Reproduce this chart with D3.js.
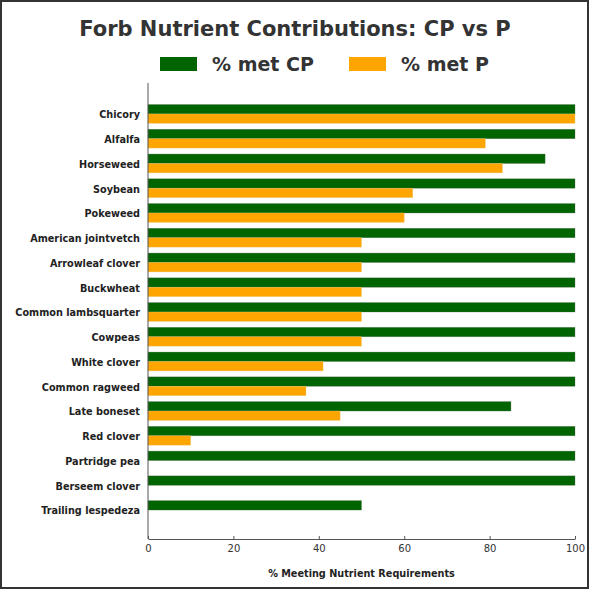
<!DOCTYPE html>
<html>
<head>
<meta charset="utf-8">
<script src="https://cdn.jsdelivr.net/npm/d3@7"></script>
<style>
  html, body { margin: 0; padding: 0; background: #fff; }
  svg { display: block; font-family: "DejaVu Sans", sans-serif; }
</style>
</head>
<body>
<div id="chart"></div>
<script>
// forbs, top to bottom
var forbs = ['Chicory', 'Alfalfa', 'Horseweed', 'Soybean', 'Pokeweed', 'American jointvetch',
    'Arrowleaf clover', 'Buckwheat', 'Common lambsquarter', 'Cowpeas', 'White clover',
    'Common ragweed', 'Late boneset', 'Red clover', 'Partridge pea', 'Berseem clover',
    'Trailing lespedeza'];
var metCP = [100, 100, 93, 100, 100, 100, 100, 100, 100, 100, 100, 100, 85, 100, 100, 100, 50];
var metP  = [100, 79, 83, 62, 60, 50, 50, 50, 50, 50, 41, 37, 45, 10, 0, 0, 0];
var xTicks = [0, 20, 40, 60, 80, 100];

var W = 589, H = 589;
var margin = { top: 83, left: 148, right: 14, bottom: 50 };
var colors = { cp: '#006400', p: '#ffa500' };
var barH = 0.38;

var svg = d3.select('#chart').append('svg')
    .attr('width', W)
    .attr('height', H)
    .attr('viewBox', [0, 0, W, H]);

// outer frame
svg.append('rect')
    .attr('x', 1).attr('y', 1)
    .attr('width', W - 2).attr('height', H - 2)
    .attr('fill', '#fff')
    .attr('stroke', '#333')
    .attr('stroke-width', 2);

var x = d3.scaleLinear().domain([0, 100]).range([margin.left, W - margin.right]);
// index scale, a little padding above the first row and below the last
var y = d3.scaleLinear().domain([-1.25, forbs.length - 1 + 1.17]).range([margin.top, H - margin.bottom]);

// title
svg.append('text')
    .attr('x', 295).attr('y', 36)
    .attr('text-anchor', 'middle')
    .attr('font-size', 21).attr('font-weight', 'bold')
    .attr('fill', '#333')
    .text('Forb Nutrient Contributions: CP vs P');

// legend
var legend = [
    { label: '% met CP', color: colors.cp, x: 160 },
    { label: '% met P', color: colors.p, x: 349 }
];
var lg = svg.selectAll('g.legend').data(legend).enter().append('g').attr('class', 'legend');
lg.append('rect')
    .attr('x', d => d.x).attr('y', 57)
    .attr('width', 37).attr('height', 14)
    .attr('fill', d => d.color);
lg.append('text')
    .attr('x', d => d.x + 52).attr('y', 71)
    .attr('font-size', 19).attr('font-weight', 'bold')
    .attr('fill', '#333')
    .text(d => d.label);

// bars
var rows = svg.selectAll('g.row')
    .data(forbs)
    .enter()
    .append('g')
    .attr('class', 'row');

rows.append('rect')
    .attr('x', x(0))
    .attr('y', (d, i) => y(i - barH))
    .attr('width', (d, i) => x(metCP[i]) - x(0))
    .attr('height', y(barH) - y(0))
    .attr('fill', colors.cp)
    .attr('stroke', 'rgba(80,110,80,0.5)')
    .attr('stroke-width', 0.6);

rows.filter((d, i) => metP[i] > 0).append('rect')
    .attr('x', x(0))
    .attr('y', (d, i) => y(i))
    .attr('width', (d, i) => x(metP[i]) - x(0))
    .attr('height', y(barH) - y(0))
    .attr('fill', colors.p)
    .attr('stroke', 'rgba(230,200,120,0.6)')
    .attr('stroke-width', 0.6);

// y labels
rows.append('text')
    .attr('x', margin.left - 8)
    .attr('y', (d, i) => y(i) + 1)
    .attr('dy', '0.35em')
    .attr('text-anchor', 'end')
    .attr('font-size', 9.7).attr('font-weight', 'bold')
    .attr('fill', '#222')
    .text(d => d);

// x axis
var xAxis = svg.append('g')
    .attr('transform', 'translate(0,' + (H - margin.bottom) + ')')
    .call(d3.axisBottom(x).tickValues(xTicks).tickSizeInner(-3).tickSizeOuter(0).tickPadding(6));
xAxis.select('.domain').attr('stroke', '#555');
xAxis.selectAll('.tick line').attr('stroke', '#555');
xAxis.selectAll('.tick text')
    .attr('font-size', 10)
    .attr('font-family', '"DejaVu Sans", sans-serif')
    .attr('fill', '#333');

// left spine
svg.append('line')
    .attr('x1', x(0)).attr('x2', x(0))
    .attr('y1', margin.top).attr('y2', H - margin.bottom)
    .attr('stroke', '#555');

// x title
svg.append('text')
    .attr('x', (x(0) + x(100)) / 2)
    .attr('y', 577)
    .attr('text-anchor', 'middle')
    .attr('font-size', 9.7).attr('font-weight', 'bold')
    .attr('fill', '#222')
    .text('% Meeting Nutrient Requirements');
</script>
</body>
</html>
